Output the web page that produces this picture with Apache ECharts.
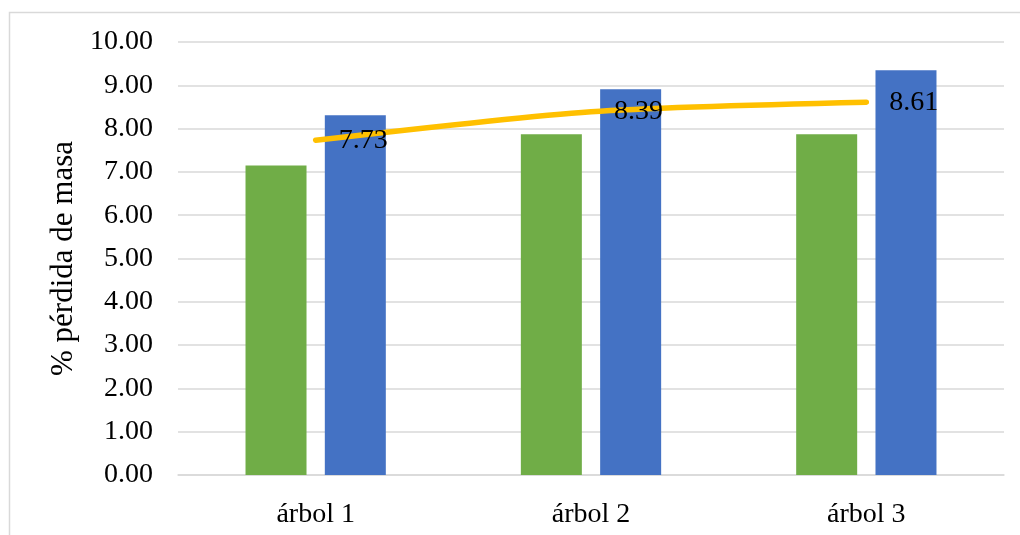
<!DOCTYPE html>
<html><head><meta charset="utf-8">
<script src="https://cdn.jsdelivr.net/npm/echarts@6/dist/echarts.min.js"></script>
<style>html,body{margin:0;padding:0;background:#fff}#c{width:1020px;height:535px}</style>
</head><body><div id="c"></div>
<script>
const categories = ['árbol 1', 'árbol 2', 'árbol 3'];
const greenValues = [7.15, 7.87, 7.87];
const blueValues = [8.31, 8.91, 9.35];
const avgValues = [7.73, 8.39, 8.61];
const yTitle = '% pérdida de masa';

const font = 'Liberation Serif, Times New Roman, serif';
const chart = echarts.init(document.getElementById('c'));
chart.setOption({
  animation: false,
  backgroundColor: '#fff',
  graphic: [{
    type: 'rect', shape: {x: 9.5, y: 12.5, width: 1030, height: 600},
    style: {fill: 'none', stroke: '#d9d9d9', lineWidth: 1.5}, silent: true, z: -1
  }],
  grid: {left: 178, right: 16, top: 42, bottom: 60},
  xAxis: {
    type: 'category', data: categories,
    axisLine: {show: true, lineStyle: {color: '#d9d9d9', width: 1.5}},
    axisTick: {show: false},
    axisLabel: {color: '#000', fontFamily: font, fontSize: 28, margin: 26}
  },
  yAxis: {
    type: 'value', min: 0, max: 10, interval: 1,
    name: yTitle, nameLocation: 'middle', nameGap: 95,
    nameTextStyle: {color: '#000', fontFamily: font, fontSize: 31},
    axisLine: {show: false}, axisTick: {show: false},
    splitLine: {lineStyle: {color: '#d9d9d9', width: 1.5}},
    axisLabel: {color: '#000', fontFamily: font, fontSize: 28, margin: 25,
      formatter: v => v.toFixed(2)}
  },
  series: [
    {type: 'bar', data: greenValues, barWidth: 61, barGap: '30%',
     itemStyle: {color: '#70ad47'}},
    {type: 'bar', data: blueValues, barWidth: 61,
     itemStyle: {color: '#4472c4'}},
    {type: 'line', data: avgValues, smooth: 0.25, symbol: 'circle', symbolSize: 2,
     showSymbol: true, z: 5,
     itemStyle: {color: 'rgba(0,0,0,0)', borderWidth: 0},
     lineStyle: {color: '#ffc000', width: 5.5, cap: 'round'},
     label: {show: true, position: 'right', distance: 22, color: '#000',
       fontFamily: font, fontSize: 28, formatter: p => p.value.toFixed(2)}}
  ]
});
</script></body></html>
